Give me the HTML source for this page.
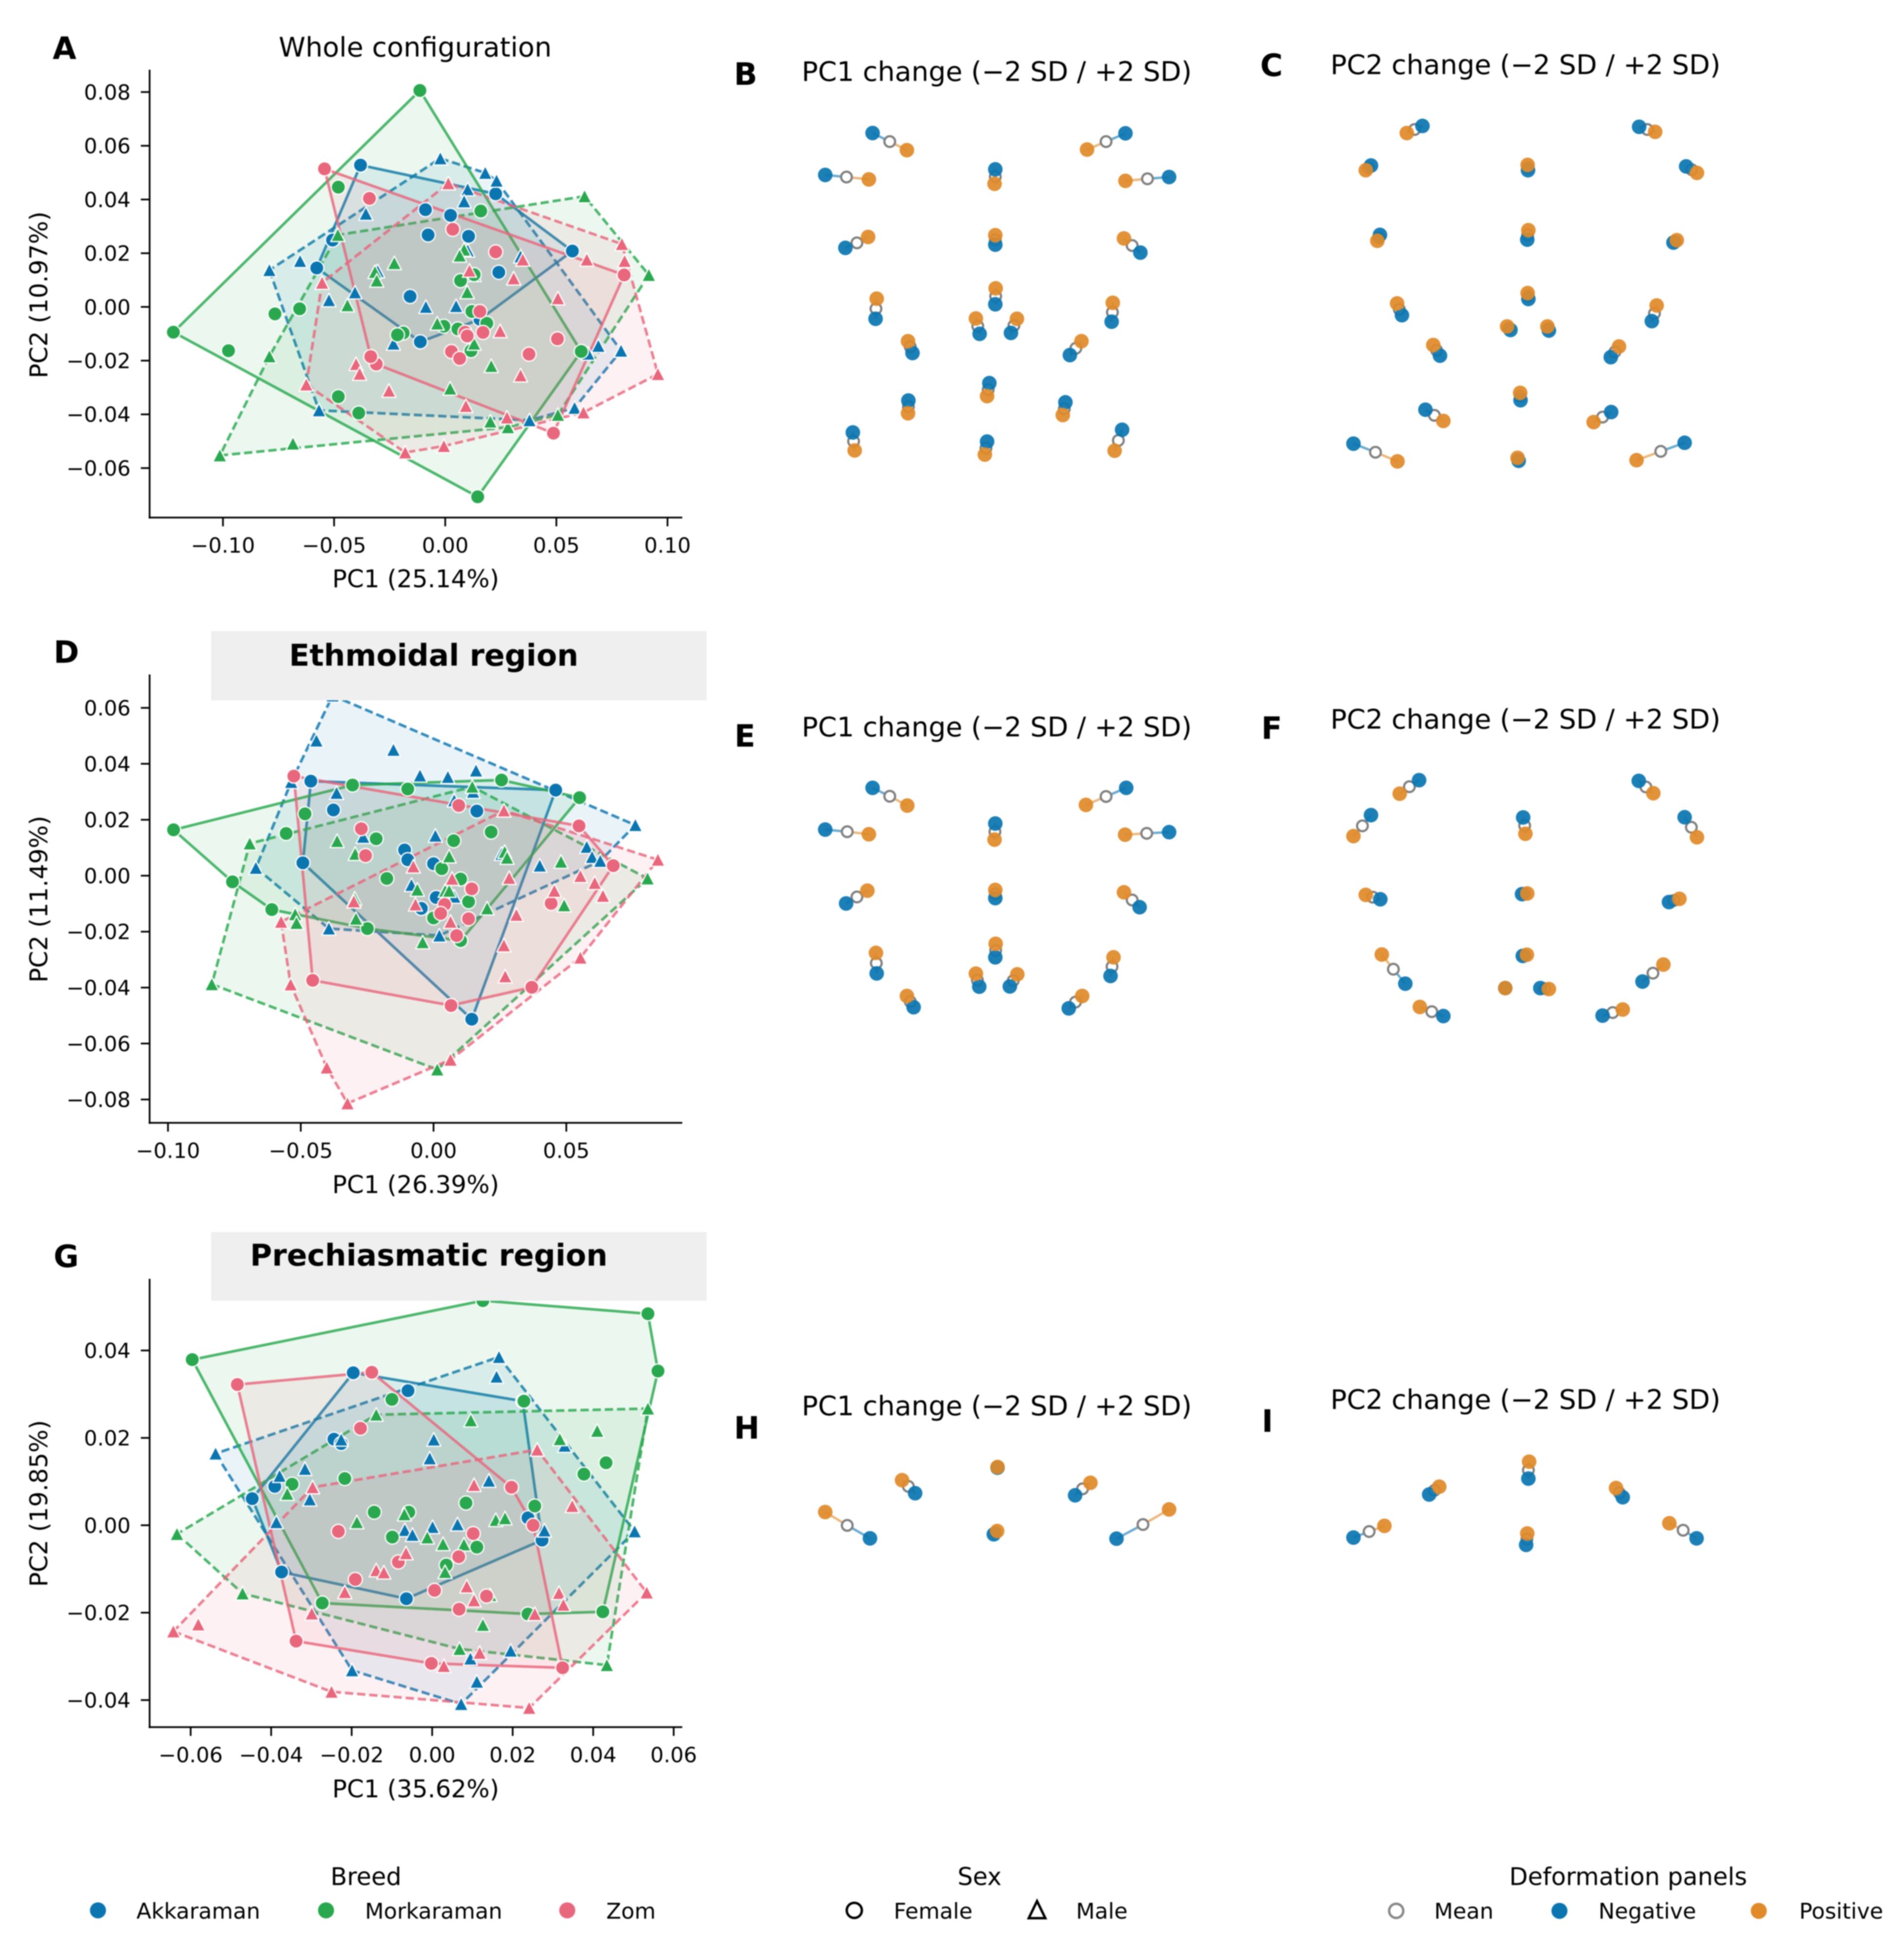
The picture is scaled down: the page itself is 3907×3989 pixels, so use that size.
<!DOCTYPE html>
<html lang="en">
<head>
<meta charset="utf-8">
<title>Geometric morphometrics PCA and deformation panels</title>
<style>
html,body{margin:0;padding:0;background:#fff;width:3907px;height:3989px;overflow:hidden}
svg{display:block;font-family:"DejaVu Sans","Liberation Sans",sans-serif;fill:#000;filter:blur(1px)}
.tick{font-size:43px}
.axis{font-size:50px}
.title{font-size:55.6px}
.letter{font-size:63px;font-weight:700}
.band{font-size:61.5px;font-weight:700}
.lgt{font-size:49.5px}
.lg{font-size:44.7px}
</style>
</head>
<body>
<svg id="figure" xmlns="http://www.w3.org/2000/svg" width="3907" height="3989" viewBox="0 0 3907 3989">
  <g id="layer-a"></g>
  <g id="layer-d"></g>
  <g id="layer-g"></g>
  <g id="layer-b"></g>
  <g id="layer-c"></g>
  <g id="layer-e"></g>
  <g id="layer-f"></g>
  <g id="layer-h"></g>
  <g id="layer-i"></g>

  <rect x="433" y="1295" width="1017" height="142" fill="#efefef"/>
  <rect x="433" y="2528" width="1017" height="141" fill="#efefef"/>
  <text class="band" x="890" y="1366" text-anchor="middle">Ethmoidal region</text>
  <text class="band" x="880" y="2597" text-anchor="middle">Prechiasmatic region</text>

  <text class="title" x="852" y="116" text-anchor="middle">Whole configuration</text>
  <text class="title" x="1645" y="166">PC1 change (−2 SD / +2 SD)</text>
  <text class="title" x="2730" y="152">PC2 change (−2 SD / +2 SD)</text>
  <text class="title" x="1645" y="1511">PC1 change (−2 SD / +2 SD)</text>
  <text class="title" x="2730" y="1495">PC2 change (−2 SD / +2 SD)</text>
  <text class="title" x="1645" y="2904">PC1 change (−2 SD / +2 SD)</text>
  <text class="title" x="2730" y="2891">PC2 change (−2 SD / +2 SD)</text>

  <text class="letter" x="108" y="121">A</text>
  <text class="letter" x="1506" y="174">B</text>
  <text class="letter" x="2586" y="156">C</text>
  <text class="letter" x="110" y="1360">D</text>
  <text class="letter" x="1507" y="1532">E</text>
  <text class="letter" x="2588" y="1516">F</text>
  <text class="letter" x="110" y="2600">G</text>
  <text class="letter" x="1506" y="2952">H</text>
  <text class="letter" x="2589" y="2938">I</text>

  <text class="axis" x="853" y="1205" text-anchor="middle">PC1 (25.14%)</text>
  <text class="axis" x="853" y="2448" text-anchor="middle">PC1 (26.39%)</text>
  <text class="axis" x="853" y="3688" text-anchor="middle">PC1 (35.62%)</text>
  <text class="axis" transform="translate(97,605) rotate(-90)" text-anchor="middle">PC2 (10.97%)</text>
  <text class="axis" transform="translate(97,1845) rotate(-90)" text-anchor="middle">PC2 (11.49%)</text>
  <text class="axis" transform="translate(97,3085) rotate(-90)" text-anchor="middle">PC2 (19.85%)</text>

  <g>
    <text class="lgt" x="751" y="3868" text-anchor="middle">Breed</text>
    <circle cx="201" cy="3920" r="16.5" fill="#0b75b0"/>
    <text class="lg" x="280" y="3937">Akkaraman</text>
    <circle cx="669" cy="3920" r="16.5" fill="#2aa84f"/>
    <text class="lg" x="749" y="3937">Morkaraman</text>
    <circle cx="1164" cy="3920" r="16.5" fill="#e8677c"/>
    <text class="lg" x="1244" y="3937">Zom</text>
  </g>
  <g>
    <text class="lgt" x="2010" y="3868" text-anchor="middle">Sex</text>
    <circle cx="1753" cy="3920" r="15.5" fill="#fff" stroke="#000" stroke-width="5"/>
    <text class="lg" x="1834" y="3937">Female</text>
    <polygon points="2128,3901 2145,3936 2111,3936" fill="#fff" stroke="#000" stroke-width="5"/>
    <text class="lg" x="2208" y="3937">Male</text>
  </g>
  <g>
    <text class="lgt" x="3341" y="3868" text-anchor="middle">Deformation panels</text>
    <circle cx="2865" cy="3921" r="14.5" fill="#fff" stroke="#888" stroke-width="5"/>
    <text class="lg" x="2943" y="3937">Mean</text>
    <circle cx="3200" cy="3921" r="16.5" fill="#0b75b0"/>
    <text class="lg" x="3280" y="3937">Negative</text>
    <circle cx="3609" cy="3921" r="16.5" fill="#e08a2a"/>
    <text class="lg" x="3692" y="3937">Positive</text>
  </g>
</svg>
<script>
// ---------- Tick values ----------
const aXTicks = [-0.10, -0.05, 0.00, 0.05, 0.10];
const aYTicks = [0.08, 0.06, 0.04, 0.02, 0.00, -0.02, -0.04, -0.06];
const dXTicks = [-0.10, -0.05, 0.00, 0.05];
const dYTicks = [0.06, 0.04, 0.02, 0.00, -0.02, -0.04, -0.06, -0.08];
const gXTicks = [-0.06, -0.04, -0.02, 0.00, 0.02, 0.04, 0.06];
const gYTicks = [0.04, 0.02, 0.00, -0.02, -0.04];

// ---------- Panel A scores (PC1, PC2) ----------
const aAkkaramanFemale = [[-0.0381,0.0528],[0.0227,0.0421],[0.0572,0.0208],[0.0156,-0.0046],[-0.0112,-0.0130],[-0.0578,0.0145],[-0.0507,0.0249],[-0.0089,0.0362],[0.0024,0.0341],[-0.0077,0.0268],[0.0105,0.0263],[0.0241,0.0129],[-0.0158,0.0039]];
const aAkkaramanMale = [[-0.0022,0.0553],[0.0180,0.0499],[0.0231,0.0470],[0.0791,-0.0163],[0.0689,-0.0145],[0.0643,-0.0174],[0.0582,-0.0376],[0.0379,-0.0422],[-0.0568,-0.0385],[-0.0791,0.0137],[-0.0357,0.0347],[-0.0653,0.0171],[0.0101,0.0438],[0.0085,0.0393],[0.0101,0.0210],[0.0339,0.0188],[0.0130,0.0119],[-0.0304,0.0133],[-0.0523,0.0025],[-0.0406,0.0054],[-0.0087,0.0],[0.0049,0.0003],[-0.0233,-0.0137]];
const aMorkaramanFemale = [[-0.0114,0.0806],[0.0612,-0.0166],[0.0146,-0.0707],[-0.1223,-0.0094],[-0.0481,0.0446],[0.0160,0.0357],[-0.0766,-0.0026],[-0.0655,-0.0007],[-0.0975,-0.0163],[-0.0481,-0.0334],[-0.0389,-0.0395],[0.0069,0.0098],[0.0130,0.0120],[0.0120,-0.0017],[-0.0006,-0.0072],[0.0057,-0.0082],[-0.0189,-0.0097],[-0.0215,-0.0104],[0.0187,-0.0061],[0.0116,-0.0163]];
const aMorkaramanMale = [[0.0627,0.0412],[0.0916,0.0119],[0.0507,-0.0402],[0.0282,-0.0448],[-0.1014,-0.0553],[-0.0791,-0.0184],[-0.0483,0.0268],[-0.0685,-0.0509],[0.0203,-0.0427],[-0.0229,0.0163],[-0.0316,0.0130],[-0.0308,0.0098],[0.0085,0.0213],[0.0065,0.0191],[0.0099,0.0055],[-0.0440,0.0006],[-0.0036,-0.0062],[0.0130,-0.0137],[0.0207,-0.0220],[0.0022,-0.0304]];
const aZomFemale = [[-0.0543,0.0514],[0.0805,0.0119],[0.0487,-0.0470],[-0.0310,-0.0213],[-0.0335,-0.0185],[-0.0341,0.0404],[0.0034,0.0289],[0.0227,0.0205],[0.0156,-0.0017],[0.0170,-0.0095],[0.0089,-0.0094],[0.0099,-0.0108],[0.0505,-0.0119],[0.0028,-0.0166],[0.0065,-0.0192],[0.0377,-0.0176]];
const aZomMale = [[0.0014,0.0460],[0.0795,0.0234],[0.0807,0.0171],[0.0957,-0.0250],[0.0622,-0.0393],[-0.0006,-0.0518],[-0.0180,-0.0542],[-0.0625,-0.0289],[-0.0554,0.0090],[0.0637,0.0176],[0.0349,0.0176],[0.0109,0.0135],[0.0308,0.0106],[0.0507,0.0032],[0.0247,-0.0090],[-0.0401,-0.0213],[-0.0385,-0.0249],[-0.0253,-0.0312],[0.0339,-0.0255],[0.0093,-0.0369],[0.0278,-0.0412]];

// ---------- Panel D scores ----------
const dAkkaramanFemale = [[-0.0462,0.0338],[0.0460,0.0306],[0.0144,-0.0513],[-0.0492,0.0046],[-0.0377,0.0235],[0.0163,0.0231],[-0.0109,0.0092],[-0.0097,0.0057],[0.0,0.0043],[0.0010,-0.0078],[-0.0046,-0.0117]];
const dAkkaramanMale = [[-0.0380,0.0644],[-0.0441,0.0483],[-0.0151,0.0450],[-0.0536,0.0335],[-0.0365,0.0296],[-0.0051,0.0358],[0.0054,0.0353],[0.0160,0.0376],[0.0149,0.0300],[0.0078,0.0269],[0.0760,0.0181],[0.0577,0.0103],[0.0597,0.0067],[0.0628,0.0053],[0.0400,0.0036],[0.0256,0.0078],[0.0007,0.0143],[-0.0265,0.0139],[-0.0669,0.0028],[-0.0083,-0.0033],[0.0078,-0.0075],[-0.0394,-0.0189],[0.0022,-0.0214]];
const dMorkaramanFemale = [[-0.0979,0.0164],[-0.0305,0.0324],[-0.0097,0.0310],[0.0256,0.0342],[0.0550,0.0279],[0.0102,-0.0232],[-0.0249,-0.0189],[-0.0609,-0.0121],[-0.0757,-0.0022],[-0.0484,0.0221],[-0.0555,0.0151],[-0.0216,0.0132],[0.0076,0.0125],[0.0217,0.0156],[0.0031,0.0025],[-0.0176,-0.0010],[0.0102,-0.0012],[0.0132,-0.0093],[0.0,-0.0151]];
const dMorkaramanMale = [[0.0146,0.0318],[0.0806,-0.0010],[0.0014,-0.0693],[-0.0835,-0.0388],[-0.0692,0.0115],[-0.0363,0.0124],[-0.0295,0.0078],[0.0059,0.0069],[0.0268,0.0085],[0.0277,0.0064],[0.0480,0.0050],[0.0492,-0.0106],[0.0202,-0.0117],[0.0044,-0.0054],[0.0059,-0.0054],[-0.0061,-0.0050],[-0.0297,-0.0082],[-0.0292,-0.0154],[-0.0521,-0.0138],[-0.0516,-0.0169],[-0.0041,-0.0238]];
const dZomFemale = [[-0.0526,0.0356],[0.0548,0.0178],[0.0677,0.0036],[0.0370,-0.0399],[0.0066,-0.0464],[-0.0455,-0.0374],[0.0095,0.0251],[-0.0272,0.0168],[-0.0256,0.0072],[0.0144,-0.0047],[0.0042,-0.0103],[0.0027,-0.0135],[0.0132,-0.0154],[0.0087,-0.0214],[0.0443,-0.0099]];
const dZomMale = [[0.0845,0.0057],[0.0265,0.0233],[-0.0574,-0.0165],[-0.0538,-0.0389],[-0.0402,-0.0686],[-0.0324,-0.0814],[0.0064,-0.0658],[0.0553,-0.0293],[0.0638,-0.0072],[0.0607,-0.0026],[0.0553,-0.0001],[0.0455,-0.0054],[0.0312,-0.0140],[0.0285,-0.0008],[0.0265,-0.0249],[0.0270,-0.0360],[0.0070,-0.0011],[-0.0076,0.0033],[-0.0068,-0.0103],[-0.0300,-0.0092],[0.0064,-0.0165]];

// ---------- Panel G scores ----------
const gAkkaramanFemale = [[-0.0196,0.0349],[-0.0060,0.0308],[0.0225,0.0284],[0.0273,-0.0034],[-0.0064,-0.0168],[-0.0374,-0.0107],[-0.0447,0.0061],[-0.0391,0.0089],[-0.0244,0.0197],[-0.0226,0.0187],[0.0238,0.0017]];
const gAkkaramanMale = [[0.0166,0.0385],[0.0160,0.0340],[0.0329,0.0182],[0.0503,-0.0014],[0.0195,-0.0287],[0.0072,-0.0409],[-0.0199,-0.0332],[-0.0538,0.0164],[-0.0379,0.0113],[-0.0316,0.0129],[-0.0226,0.0196],[0.0004,0.0196],[-0.0006,0.0153],[0.0141,0.0102],[-0.0304,0.0059],[-0.0387,0.0007],[0.0063,0.0002],[0.0001,-0.0004],[-0.0068,-0.0011],[-0.0049,-0.0022],[0.0279,-0.0012],[0.0095,-0.0305],[0.0111,-0.0358]];
const gMorkaramanFemale = [[-0.0596,0.0379],[0.0126,0.0514],[0.0536,0.0484],[0.0561,0.0353],[0.0424,-0.0198],[0.0238,-0.0203],[-0.0273,-0.0178],[-0.0100,0.0288],[0.0228,0.0284],[-0.0217,0.0107],[-0.0348,0.0094],[0.0377,0.0117],[0.0432,0.0143],[0.0255,0.0044],[0.0084,0.0051],[-0.0058,0.0030],[-0.0144,0.0030],[-0.0099,-0.0027],[0.0111,-0.0050],[0.0035,-0.0091]];
const gMorkaramanMale = [[-0.0634,-0.0020],[-0.0139,0.0253],[0.0536,0.0267],[0.0434,-0.0320],[-0.0471,-0.0156],[0.0068,-0.0283],[0.0096,0.0240],[0.0317,0.0197],[0.0410,0.0216],[-0.0360,0.0072],[-0.0187,0.0007],[-0.0069,0.0025],[0.0158,0.0012],[0.0181,0.0016],[-0.0012,-0.0028],[0.0027,-0.0043],[0.0079,-0.0044],[0.0032,-0.0107],[0.0144,-0.0160],[0.0126,-0.0228]];
const gZomFemale = [[-0.0484,0.0322],[-0.0150,0.0350],[0.0197,0.0087],[0.0251,0.0],[0.0324,-0.0326],[-0.0002,-0.0316],[-0.0338,-0.0265],[-0.0178,0.0222],[-0.0233,-0.0014],[0.0102,-0.0019],[0.0066,-0.0072],[-0.0084,-0.0084],[-0.0191,-0.0124],[0.0006,-0.0149],[0.0135,-0.0162],[0.0067,-0.0192]];
const gZomMale = [[0.0261,0.0173],[0.0533,-0.0154],[0.0241,-0.0418],[-0.0250,-0.0381],[-0.0643,-0.0243],[-0.0297,0.0087],[0.0104,0.0092],[0.0348,0.0044],[-0.0581,-0.0227],[-0.0299,-0.0202],[-0.0217,-0.0153],[-0.0139,-0.0103],[-0.0120,-0.0108],[-0.0065,-0.0064],[0.0086,-0.0140],[0.0104,-0.0172],[0.0255,-0.0203],[0.0315,-0.0155],[0.0326,-0.0182],[0.0118,-0.0292],[0.0029,-0.0322]];

// ---------- Deformation landmarks (shape units) ----------
const bNegative = [[.445,.368],[.318,.510],[1.123,.369],[1.240,.517],[.774,.491],[.372,.757],[.774,.746],[1.163,.773],[.453,.997],[.774,.948],[1.086,1.007],[.732,1.048],[.816,1.045],[.552,1.113],[.974,1.120],[.758,1.215],[.541,1.274],[.962,1.280],[.392,1.382],[.752,1.413],[1.114,1.373]];
const bMean = [[.491,.397],[.375,.517],[1.071,.397],[1.182,.523],[.774,.516],[.403,.740],[.774,.730],[1.141,.749],[.454,.963],[.775,.921],[1.088,.975],[.727,1.022],[.824,1.020],[.546,1.092],[.990,1.097],[.755,1.237],[.541,1.295],[.959,1.302],[.394,1.412],[.749,1.435],[1.104,1.409]];
const bPositive = [[.537,.426],[.435,.525],[1.020,.424],[1.123,.530],[.772,.540],[.433,.720],[.774,.714],[1.119,.725],[.456,.929],[.775,.894],[1.089,.943],[.722,.996],[.832,.997],[.540,1.073],[1.005,1.073],[.752,1.259],[.540,1.317],[.955,1.323],[.397,1.443],[.746,1.457],[1.094,1.444]];

const cNegative = [[.482,.344],[.344,.478],[1.063,.347],[1.189,.481],[.765,.494],[.368,.713],[.763,.729],[1.155,.739],[.427,.985],[.766,.930],[1.097,1.005],[.718,1.035],[.821,1.037],[.529,1.122],[.987,1.127],[.745,1.273],[.490,1.305],[.988,1.313],[.297,1.420],[.740,1.478],[1.185,1.417]];
const cMean = [[.461,.356],[.337,.486],[1.085,.356],[1.204,.492],[.765,.485],[.365,.723],[.764,.713],[1.160,.735],[.420,.965],[.765,.920],[1.104,.979],[.713,1.029],[.819,1.030],[.520,1.104],[.998,1.109],[.744,1.260],[.514,1.324],[.965,1.330],[.356,1.449],[.738,1.473],[1.121,1.446]];
const cPositive = [[.440,.368],[.330,.494],[1.106,.364],[1.218,.503],[.764,.476],[.361,.733],[.766,.697],[1.164,.731],[.414,.945],[.764,.910],[1.110,.952],[.709,1.023],[.817,1.023],[.511,1.086],[1.009,1.091],[.744,1.248],[.538,1.343],[.941,1.347],[.415,1.480],[.737,1.468],[1.056,1.476]];

const eNegative = [[.445,.453],[.318,.632],[1.125,.453],[1.240,.643],[.774,.606],[.374,.949],[.774,.926],[1.161,.965],[.456,1.249],[.774,1.180],[1.083,1.260],[.731,1.306],[.813,1.305],[.555,1.394],[.971,1.399]];
const eMean = [[.491,.489],[.377,.641],[1.071,.490],[1.180,.648],[.773,.641],[.403,.921],[.774,.908],[1.141,.934],[.455,1.205],[.775,1.150],[1.087,1.220],[.726,1.278],[.822,1.280],[.546,1.370],[.989,1.372]];
const ePositive = [[.538,.529],[.435,.652],[1.017,.526],[1.122,.654],[.772,.675],[.431,.894],[.774,.891],[1.119,.901],[.454,1.161],[.775,1.122],[1.091,1.180],[.722,1.250],[.833,1.253],[.537,1.346],[1.007,1.346]];

const fNegative = [[.473,.420],[.344,.570],[1.062,.423],[1.185,.579],[.752,.580],[.369,.931],[.749,.909],[1.143,.943],[.436,1.293],[.751,1.174],[1.072,1.284],[.704,1.312],[.798,1.312],[.538,1.432],[.965,1.430]];
const fMean = [[.447,.448],[.321,.616],[1.081,.449],[1.203,.622],[.756,.615],[.349,.922],[.756,.908],[1.156,.936],[.404,1.231],[.756,1.172],[1.100,1.248],[.704,1.312],[.810,1.314],[.507,1.413],[.992,1.417]];
const fPositive = [[.421,.478],[.297,.660],[1.101,.476],[1.218,.665],[.758,.650],[.330,.912],[.763,.906],[1.171,.929],[.373,1.168],[.762,1.169],[1.128,1.211],[.704,1.312],[.821,1.316],[.475,1.393],[1.019,1.404]];

const hNegative = [[.438,1.070],[.559,.792],[.780,.635],[.988,.805],[1.099,1.072],[.770,1.045]];
const hMean = [[.377,.990],[.541,.750],[.780,.633],[1.008,.765],[1.170,.985],[.775,1.035]];
const hPositive = [[.318,.908],[.524,.712],[.780,.631],[1.029,.728],[1.240,.892],[.779,1.025]];

const iNegative = [[.297,1.065],[.500,.800],[.766,.702],[1.019,.817],[1.217,1.070],[.760,1.110]];
const iMean = [[.339,1.028],[.514,.775],[.766,.650],[1.010,.790],[1.181,1.020],[.762,1.075]];
const iPositive = [[.380,.993],[.527,.752],[.768,.598],[1.001,.760],[1.144,.977],[.763,1.040]];

// ---------- Drawing ----------
const NS = 'http://www.w3.org/2000/svg';
const BLUE = '#0b75b0', GREEN = '#2aa84f', PINK = '#e8677c', ORANGE = '#e08a2a';
const SPINE_LEFT = 307, SPINE_RIGHT = 1400;

function node(tag, parent, attrs) {
  const el = document.createElementNS(NS, tag);
  for (const k in attrs) el.setAttribute(k, attrs[k]);
  parent.appendChild(el);
  return el;
}
function fmt(v) {
  const s = Math.abs(v).toFixed(2);
  return v < -1e-9 ? '\u2212' + s : s;
}
function convexHull(points) {
  const p = points.slice().sort((a, b) => a[0] - b[0] || a[1] - b[1]);
  const cross = (o, a, b) => (a[0]-o[0])*(b[1]-o[1]) - (a[1]-o[1])*(b[0]-o[0]);
  const lower = [], upper = [];
  for (const q of p) {
    while (lower.length >= 2 && cross(lower[lower.length-2], lower[lower.length-1], q) <= 0) lower.pop();
    lower.push(q);
  }
  for (let i = p.length - 1; i >= 0; i--) {
    const q = p[i];
    while (upper.length >= 2 && cross(upper[upper.length-2], upper[upper.length-1], q) <= 0) upper.pop();
    upper.push(q);
  }
  return lower.slice(0, -1).concat(upper.slice(0, -1));
}
function drawHull(g, name, pts, color, dashed, sx, sy) {
  const hull = convexHull(pts);
  const poly = node('polygon', g, {
    points: hull.map(p => sx(p[0]).toFixed(1) + ',' + sy(p[1]).toFixed(1)).join(' '),
    fill: color, 'fill-opacity': 0.09, stroke: color, 'stroke-opacity': 0.82,
    'stroke-width': 5.5, 'stroke-linejoin': 'round'
  });
  if (dashed) poly.setAttribute('stroke-dasharray', '17 8');
  
  
}
function drawPoints(g, name, pts, color, male, sx, sy) {
  for (const p of pts) {
    const x = sx(p[0]), y = sy(p[1]);
    let m;
    if (male) {
      const r = 14.5;
      m = node('polygon', g, {
        points: x + ',' + (y - r) + ' ' + (x + r) + ',' + (y + r - 1) + ' ' + (x - r) + ',' + (y + r - 1),
        fill: color, stroke: '#fff', 'stroke-width': 2.5, 'stroke-linejoin': 'round'
      });
    } else {
      m = node('circle', g, { cx: x, cy: y, r: 14.5, fill: color, stroke: '#fff', 'stroke-width': 2.5 });
    }
    
    
  }
}
function drawPca(id, geom, xTicks, yTicks, groups) {
  const g = document.getElementById(id);
  const sx = d => geom.x0 + geom.xs * d;
  const sy = d => geom.y0 - geom.ys * d;
  for (const s of groups) drawHull(g, s.name + '-hull', s.pts, s.color, s.male, sx, sy);
  for (const s of groups) drawPoints(g, s.name + '-point', s.pts, s.color, s.male, sx, sy);
  const left = node('line', g, { x1: SPINE_LEFT, x2: SPINE_LEFT, y1: geom.top, y2: geom.bottom + 2, stroke: '#000', 'stroke-width': 3.5 });
  
  
  const bottom = node('line', g, { x1: SPINE_LEFT - 2, x2: SPINE_RIGHT, y1: geom.bottom, y2: geom.bottom, stroke: '#000', 'stroke-width': 3.5 });
  
  
  for (const v of xTicks) {
    const x = sx(v);
    const t = node('line', g, { x1: x, x2: x, y1: geom.bottom, y2: geom.bottom + 18, stroke: '#000', 'stroke-width': 3.5 });
    
    
    const l = node('text', g, { x: x, y: geom.xLabel, 'text-anchor': 'middle', class: 'tick' });
    l.textContent = fmt(v);
    
    
  }
  for (const v of yTicks) {
    const y = sy(v);
    const t = node('line', g, { x1: SPINE_LEFT - 18, x2: SPINE_LEFT, y1: y, y2: y, stroke: '#000', 'stroke-width': 3.5 });
    
    
    const l = node('text', g, { x: 268, y: y + 15.5, 'text-anchor': 'end', class: 'tick' });
    l.textContent = fmt(v);
    
    
  }
}
function drawDeformation(id, geom, neg, mean, pos) {
  const g = document.getElementById(id);
  const sx = v => geom.x0 + geom.xs * v;
  const sy = v => geom.y0 + geom.ys * v;
  neg.forEach((n, i) => {
    const a = node('line', g, { x1: sx(n[0]), y1: sy(n[1]), x2: sx(mean[i][0]), y2: sy(mean[i][1]), stroke: BLUE, 'stroke-opacity': 0.6, 'stroke-width': 5 });
    
    
    const b = node('line', g, { x1: sx(mean[i][0]), y1: sy(mean[i][1]), x2: sx(pos[i][0]), y2: sy(pos[i][1]), stroke: ORANGE, 'stroke-opacity': 0.6, 'stroke-width': 5 });
    
    
  });
  mean.forEach(p => {
    const c = node('circle', g, { cx: sx(p[0]), cy: sy(p[1]), r: 11, fill: '#fff', stroke: '#808080', 'stroke-width': 4.5 });
    
    
  });
  neg.forEach(p => {
    const c = node('circle', g, { cx: sx(p[0]), cy: sy(p[1]), r: 15, fill: BLUE, 'fill-opacity': 0.93 });
    
    
  });
  pos.forEach(p => {
    const c = node('circle', g, { cx: sx(p[0]), cy: sy(p[1]), r: 15, fill: ORANGE, 'fill-opacity': 0.93 });
    
    
  });
}
function groupsOf(af, am, mf, mm, zf, zm) {
  return [
    { name: 'akkaraman-female', pts: af, color: BLUE, male: false },
    { name: 'akkaraman-male', pts: am, color: BLUE, male: true },
    { name: 'morkaraman-female', pts: mf, color: GREEN, male: false },
    { name: 'morkaraman-male', pts: mm, color: GREEN, male: true },
    { name: 'zom-female', pts: zf, color: PINK, male: false },
    { name: 'zom-male', pts: zm, color: PINK, male: true }
  ];
}

drawPca('layer-a', { x0: 913.6, xs: 4561, y0: 629.8, ys: 5511, top: 143, bottom: 1062, xLabel: 1134 }, aXTicks, aYTicks,
  groupsOf(aAkkaramanFemale, aAkkaramanMale, aMorkaramanFemale, aMorkaramanMale, aZomFemale, aZomMale));
drawPca('layer-d', { x0: 889.6, xs: 5449, y0: 1796.9, ys: 5740, top: 1384, bottom: 2304, xLabel: 2376 }, dXTicks, dYTicks,
  groupsOf(dAkkaramanFemale, dAkkaramanMale, dMorkaramanFemale, dMorkaramanMale, dZomFemale, dZomMale));
drawPca('layer-g', { x0: 886.8, xs: 8260, y0: 3129.8, ys: 8968, top: 2624, bottom: 3544, xLabel: 3616 }, gXTicks, gYTicks,
  groupsOf(gAkkaramanFemale, gAkkaramanMale, gMorkaramanFemale, gMorkaramanMale, gZomFemale, gZomMale));

drawDeformation('layer-b', { x0: 1450, xs: 765.3, y0: 50, ys: 605.9 }, bNegative, bMean, bPositive);
drawDeformation('layer-c', { x0: 2550, xs: 765.3, y0: 50, ys: 605.9 }, cNegative, cMean, cPositive);
drawDeformation('layer-e', { x0: 1450, xs: 765.3, y0: 1400, ys: 478.3 }, eNegative, eMean, ePositive);
drawDeformation('layer-f', { x0: 2550, xs: 765.3, y0: 1400, ys: 478.3 }, fNegative, fMean, fPositive);
drawDeformation('layer-h', { x0: 1450, xs: 765.3, y0: 2800, ys: 333.3 }, hNegative, hMean, hPositive);
drawDeformation('layer-i', { x0: 2550, xs: 765.3, y0: 2800, ys: 333.3 }, iNegative, iMean, iPositive);
</script>
</body>
</html>
